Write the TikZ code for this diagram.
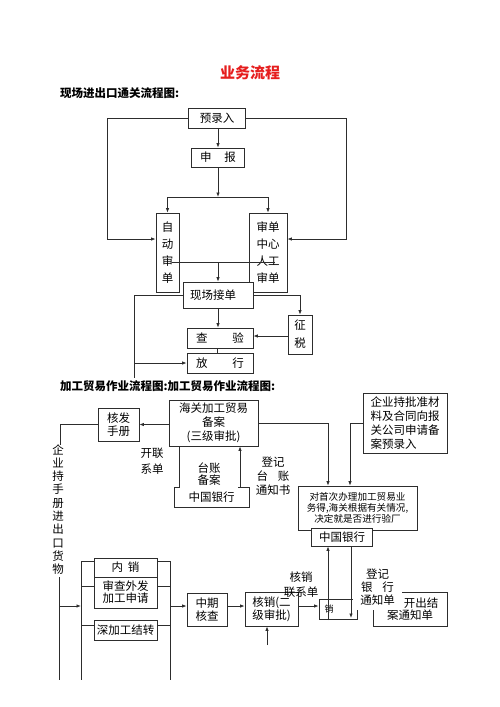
\documentclass[tikz,border=0pt]{standalone}
\usepackage{fontspec}
\setmainfont{Noto Sans CJK SC}
\usetikzlibrary{arrows.meta}
\definecolor{lc}{RGB}{45,45,45}
\definecolor{tred}{RGB}{230,30,30}
\newcommand{\myfs}[2]{\fontsize{#1}{#2}\selectfont}
\begin{document}
\begin{tikzpicture}[x=1pt,y=-1pt,
 bx/.style={draw=lc,line width=0.8pt,fill=white,inner sep=0pt,align=center,font=\myfs{11.5}{13}},
 lbl/.style={inner sep=0pt,align=center,font=\myfs{11.5}{13}},
 ln/.style={draw=lc,line width=0.8pt},
 arr/.style={ln,-{Latex[length=4.5pt,width=3.5pt]}}]
\fill[white] (0,0) rectangle (500,707);
\useasboundingbox (0,0) rectangle (500,707);

\node[lbl,font=\myfs{15}{18}\bfseries,text=tred] (title) at (250,73) {业务流程};
\node[lbl,anchor=west,font=\myfs{11.5}{13}\bfseries] (h1) at (60,93) {现场进出口通关流程图:};

% top flow
\node[bx,minimum width=57pt,minimum height=20pt] (yl) at (217,118) {预录入};
\node[bx,minimum width=53pt,minimum height=19pt] (sb) at (218,157.5) {申\hspace{13pt}报};
\node[bx,minimum width=23pt,minimum height=79pt,font=\myfs{11.5}{17}] (zd) at (167.5,252.5) {自\\动\\审\\单};
\node[bx,minimum width=38pt,minimum height=79pt,font=\myfs{11.5}{17}] (rg) at (268,252.5) {审单\\中心\\人工\\审单};
\node[bx,minimum width=70pt,minimum height=26pt] (xc) at (218,295) {现场接单\hspace*{10pt}};
\node[bx,minimum width=66pt,minimum height=20pt] (cy) at (220,338) {查\hspace{25pt}验};
\node[bx,minimum width=66pt,minimum height=20pt] (fx) at (220,363) {放\hspace{25pt}行};
\node[bx,minimum width=24pt,minimum height=39pt,font=\myfs{11.5}{18}] (zs) at (300,334.5) {征\\税};

\draw[arr] (yl.west) -| (107,239) -- (zd.west |- 0,239);
\draw[arr] (yl.east) -| (346,239) -- (rg.east |- 0,239);
\draw[arr] (yl.south -| sb.north) -- (sb.north);
\draw[arr] (sb.south) -- (218,197);
\draw[ln] (zd.north |- 0,197) -- (rg.north |- 0,197);
\draw[arr] (zd.north |- 0,197) -- (zd.north);
\draw[arr] (rg.north |- 0,197) -- (rg.north);
\coordinate (j1) at (172,262);
\coordinate (j2) at (275,262);
\draw[ln] (j1) -- (j2);
\draw[arr] (xc.north |- j1) -- (xc.north);
\draw[arr] (xc.east) -| (zs.north);
\draw[arr] (xc.south) -- (xc.south |- cy.north);
\draw[arr] (zs.west |- 0,336) -- (cy.east |- 0,336);
\draw[ln] (cy.south -| 217,0) -- (fx.north -| 217,0);
\draw[ln] (xc.west) -| (134,378);
\draw[arr] (134,363) -- (fx.west);

\node[lbl,anchor=west,font=\myfs{11.5}{13}\bfseries] (h2) at (60,386) {加工贸易作业流程图:加工贸易作业流程图:};

% middle
\node[bx,minimum width=41pt,minimum height=33pt] (hf) at (118.5,424.5) {核发\\手册};
\node[bx,minimum width=89pt,minimum height=46pt,font=\myfs{11.5}{14}] (hg) at (213.5,423) {海关加工贸易\\备案\\(三级审批)};
\draw[arr] (hg.west |- hf.east) -- (hf.east);
\draw[ln] (hf.west) -| (60,445);
\node[lbl,font=\myfs{11.5}{13.3}] (qyv) at (58,509.5) {企\\业\\持\\手\\册\\进\\出\\口\\货\\物};
\coordinate (v1) at (59,577);
\coordinate (v2) at (59,680);
\draw[ln] (v1) -- (v2);

\node[bx,minimum width=75pt,minimum height=20pt] (bk1) at (211.5,497) {中国银行};
\node[lbl,fill=white,minimum width=58pt,minimum height=30pt,font=\myfs{11.5}{12}] (tz) at (209,474) {台账\\备案};
\draw[ln] (hg.south -| 179,0) -- (bk1.north -| 179,0);
\draw[arr] (bk1.north -| 240,0) -- (hg.south -| 240,0);
\node[lbl,font=\myfs{11.5}{16}] (kl) at (152,461) {开联\\系单};
\node[lbl,font=\myfs{11.5}{14}] (dj) at (273,476) {登记\\台\hspace{10pt}账\\通知书};

\node[bx,minimum width=84pt,minimum height=60pt,align=left,font=\myfs{11.5}{14}] (qy) at (405,423) {企业持批准材\\料及合同向报\\关公司申请备\\案预录入};
\node[bx,minimum width=119pt,minimum height=44pt,font=\myfs{9.6}{10.8}] (dsc) at (357.5,508) {对首次办理加工贸易业\\务得,海关根据有关情况,\\决定就是否进行验厂};
\draw[arr] (hg.east) -| (dsc.north -| 328,0);
\draw[arr] (qy.west) -| (dsc.north -| 350,0);
\node[bx,minimum width=61pt,minimum height=18pt] (bk2) at (342,537) {中国银行};

% bottom
\coordinate (L1) at (81,561);
\coordinate (L2) at (81,680);
\coordinate (R1) at (170,561);
\coordinate (R2) at (170,680);
\draw[ln] (L1) -- (L2);
\draw[ln] (R1) -- (R2);
\draw[arr] (59,606) -- (L1 |- 0,606);
\node[bx,minimum width=63pt,minimum height=19pt] (nx) at (125.5,567.5) {内\hspace{5pt}销};
\node[bx,minimum width=63pt,minimum height=31pt,font=\myfs{11.5}{12}] (sc) at (125.5,592.5) {审查外发\\加工申请};
\node[bx,minimum width=63pt,minimum height=20pt] (sj) at (125.5,630) {深加工结转};
\draw[ln] (L1) -- (nx.west |- L1);
\draw[ln] (nx.east |- R1) -- (R1);
\draw[ln] (L1 |- 0,586) -- (sc.west |- 0,586);
\draw[ln] (sc.east |- 0,586) -- (R1 |- 0,586);
\draw[ln] (L1 |- 0,625) -- (sj.west |- 0,625);
\draw[ln] (sj.east |- 0,625) -- (R1 |- 0,625);

\node[bx,minimum width=40pt,minimum height=33pt] (zq) at (207,609.5) {中期\\核查};
\draw[arr] (R1 |- 0,606) -- (zq.west |- 0,606);
\node[bx,minimum width=53pt,minimum height=34pt] (hx) at (271.5,609) {核销(二\\级审批)};
\draw[arr] (zq.east |- 0,606) -- (hx.west |- 0,606);
\coordinate (hxb) at (267,645);
\draw[arr] (hxb) -- (hx.south -| hxb);
\node[lbl,font=\myfs{11.5}{15}] (hxl) at (301,584.5) {核销\\联系单};
\node[bx,minimum width=38pt,minimum height=20pt] (xb) at (338,609) {};
\node[lbl,font=\myfs{9}{10}] (xbt) at (329,609) {销};
\draw[arr] (hx.east |- 0,606) -- (xb.west |- 0,606);
\node[bx,minimum width=74pt,minimum height=34pt,font=\myfs{11.5}{12}] (kc) at (410,609) {\hspace*{22pt}开出结\\案通知单};
\node[lbl,fill=white,minimum width=49pt,minimum height=45pt,font=\myfs{11.5}{13}] (djy) at (377.5,587.5) {登记\\银\hspace{10pt}行\\通知单};
\coordinate (xbb) at (328,620);
\draw[arr] (xbb) -- (bk2.south -| xbb);
\coordinate (xbe) at (351,618);
\draw[arr] (bk2.south -| xbe) -- (xbe);
\end{tikzpicture}
\end{document}
